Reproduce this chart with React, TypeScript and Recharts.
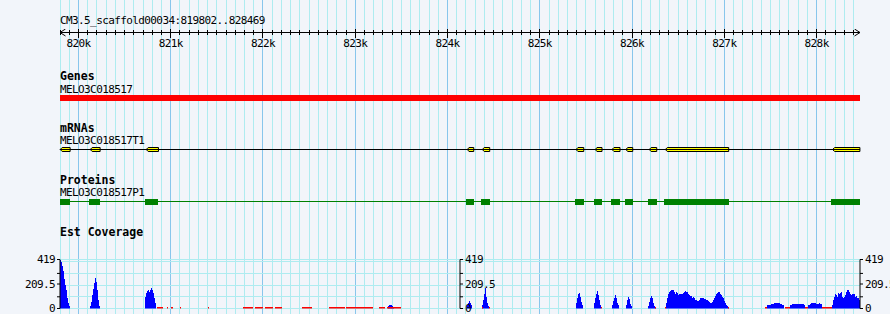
import React from 'react';
import {
  ComposedChart,
  XAxis,
  YAxis,
  ReferenceArea,
  ReferenceLine,
  Area,
} from 'recharts';

// region shown by the browser view
const regionStart = 819800;
const regionEnd = 828470;
const regionTitle = 'CM3.5_scaffold00034:819802..828469';

const majorTicks = [820000, 821000, 822000, 823000, 824000, 825000, 826000, 827000, 828000];
const minorStep = 100;

const geneName = 'MELO3C018517';
const geneSpan: [number, number] = [819802, 828469];

const mrnaName = 'MELO3C018517T1';
const mrnaExons: [number, number][] = [
  [819802, 819910], [820127, 820235], [820734, 820867], [824215, 824284],
  [824377, 824457], [825392, 825476], [825601, 825674], [825782, 825869],
  [825934, 826007], [826186, 826267], [826360, 827047], [828173, 828469],
];

const proteinName = 'MELO3C018517P1';
const proteinCds: [number, number][] = [
  [819802, 819910], [820116, 820235], [820723, 820864], [824201, 824287],
  [824363, 824461], [825382, 825479], [825587, 825674], [825772, 825869],
  [825923, 826010], [826172, 826270], [826346, 827050], [828155, 828469],
];

// EST coverage, read per ~1px bin
const covMax = 419;
const covTicks = [0, 100, 209.5, 300, 419];
const covLabelTicks = [0, 209.5, 419];
const covGridTicks = [0, 100, 200, 300, 400, 419];
const covBin = 10.83;
const covPeaks: [number, number[]][] = [
  [819802, [419, 395, 360, 320, 250, 200, 160, 90, 45, 25]],
  [820127, [20, 57, 114, 171, 219, 265, 228, 157, 71, 20]],
  [820723, [100, 134, 151, 157, 145, 162, 174, 162, 134, 86, 43]],
  [823356, [20, 28, 28, 28, 20, 10]],
  [824211, [28, 48, 66, 48, 28]],
  [824374, [28, 71, 128, 175, 100, 48, 20]],
  [825392, [43, 86, 123, 134, 100, 57, 28]],
  [825587, [43, 86, 123, 148, 114, 71, 34]],
  [825782, [28, 66, 94, 117, 86, 48, 28]],
  [825934, [28, 71, 100, 80, 40, 20]],
  [826172, [20, 57, 94, 108, 86, 48, 20, 10]],
  [826367, [43, 86, 120, 137, 148, 162, 162, 157, 143, 128, 137, 131, 114, 125, 120, 128,
    120, 134, 145, 151, 145, 137, 123, 114, 108, 105, 91, 100, 86, 71, 71, 66, 66, 71, 86,
    94, 94, 86, 77, 80, 71, 71, 63, 54, 43, 43, 57, 71, 91, 108, 123, 134, 145, 140, 128,
    114, 100, 86, 66, 48, 34, 20, 9]],
  [827462, [28, 34, 34, 34, 37, 37, 37, 43, 43, 43, 43, 43, 43, 40, 37, 34, 28]],
  [827711, [28, 34, 37, 37, 40, 40, 40, 37, 37, 37, 37, 40, 40, 37, 34]],
  [827906, [28, 34, 40, 43, 43, 43, 43, 43, 40, 40, 40, 43, 40, 37]],
  [828166, [28, 71, 100, 128, 114, 100, 134, 123, 134, 143, 100, 86, 100, 114, 143, 157,
    162, 143, 123, 114, 128, 123, 120, 100, 105, 91, 86, 71, 71, 71]],
];
// stretches of low (red) coverage along the baseline
const lowLevel = 16;
const lowRanges: [number, number][] = [
  [820850, 820921], [820958, 820969], [821004, 821030], [821102, 821113], [821405, 821416],
  [821785, 821893], [821915, 822001], [822023, 822110], [822131, 822207], [822421, 822529],
  [822716, 822890], [822901, 823190], [823258, 823323], [823348, 823496], [824374, 824385],
  [824450, 824461], [825663, 825674], [826248, 826259], [826356, 826367], [827039, 827050],
  [827440, 827462], [827657, 827711], [827873, 827906], [828057, 828166],
];

const BG = '#f2f5fa';
const GRID_MINOR = '#aeecf0';
const GRID_MAJOR = '#88c6ec';
const MONO = '"DejaVu Sans Mono", monospace';

const minorTicks: number[] = [];
for (let p = regionStart; p <= regionEnd; p += minorStep) minorTicks.push(p);

type Seg = { s: number; e: number; v: number };
const blueSegs: Seg[] = covPeaks.flatMap(([start, vals]) =>
  vals.map((v, i) => ({ s: start + i * covBin, e: start + (i + 1) * covBin, v })),
);
const redSegs: Seg[] = lowRanges.map(([s, e]) => ({ s, e, v: lowLevel }));
const valueAt = (segs: Seg[], p: number) => {
  const g = segs.find((x) => p >= x.s && p < x.e);
  return g ? g.v : 0;
};
const bounds = Array.from(
  new Set<number>([
    regionStart,
    regionEnd,
    ...blueSegs.flatMap((g) => [g.s, g.e]),
    ...redSegs.flatMap((g) => [g.s, g.e]),
  ]),
).sort((a, b) => a - b);
const covRows = bounds.map((pos) => ({ pos, cov: valueAt(blueSegs, pos), low: valueAt(redSegs, pos) }));

const W = 890;
const H = 314;

const RulerTick = (props: any) => {
  const { x, y, payload } = props;
  const major = payload.value % 1000 === 0;
  return (
    <g>
      <line x1={x} x2={x} y1={major ? y - 4 : y - 2.5} y2={major ? y + 5 : y + 2.5}
        stroke="#000" shapeRendering="crispEdges" />
      {major && (
        <text x={x} y={y + 14} textAnchor="middle" fontFamily={MONO} fontSize={11}
          letterSpacing={-0.6} fill="#000">
          {payload.value / 1000}k
        </text>
      )}
    </g>
  );
};

const exonShape = (p: any) => {
  const { x, y, width: w, height: h } = p;
  const n = Math.min(2, w / 4);
  return (
    <path d={`M${x},${y + h / 2} L${x + n},${y} L${x + w},${y} L${x + w},${y + h} L${x + n},${y + h} Z`}
      fill="#ffff00" stroke="#000" strokeWidth={1} />
  );
};

const xAxisProps = {
  type: 'number' as const,
  dataKey: 'pos',
  domain: [regionStart, regionEnd],
  allowDataOverflow: true,
};

const Track = ({ top, height, mt = 0, mb = 0, children }: any) => (
  <div style={{ position: 'absolute', left: 0, top, width: W, height }}>
    <ComposedChart width={W} height={height} margin={{ top: mt, bottom: mb, left: 60, right: 30 }} data={covRows}>
      <XAxis {...xAxisProps} hide />
      <YAxis type="number" domain={[0, 1]} allowDataOverflow hide />
      {children}
    </ComposedChart>
  </div>
);

const covTick = { fontFamily: MONO, fontSize: 11, fill: '#000', letterSpacing: -0.6 };
const covFmt = (v: number) => (covLabelTicks.includes(v) ? String(v) : '');
const covAxisProps = {
  type: 'number' as const,
  domain: [0, covMax],
  allowDataOverflow: true,
  ticks: covTicks,
  interval: 0 as const,
  tickFormatter: covFmt,
  tick: covTick,
  tickSize: 3,
  tickMargin: 2,
  axisLine: { stroke: '#000' },
  tickLine: { stroke: '#000' },
};
const covMargin = { top: 9.5, bottom: 5.5, left: 0, right: 0 };

const labels: { t: string; y: number; bold?: boolean }[] = [
  { t: regionTitle, y: 24 },
  { t: 'Genes', y: 80, bold: true },
  { t: geneName, y: 93 },
  { t: 'mRNAs', y: 132, bold: true },
  { t: mrnaName, y: 144 },
  { t: 'Proteins', y: 184, bold: true },
  { t: proteinName, y: 195.5 },
  { t: 'Est Coverage', y: 236, bold: true },
];

export default function App() {
  return (
    <div style={{ position: 'absolute', left: 0, top: 0, width: W, height: H, background: BG, overflow: 'hidden' }}>
      {/* background grid, every 100 bp and every kb */}
      <Track top={0} height={H}>
        {minorTicks.map((t) => (
          <ReferenceLine key={'m' + t} x={t} stroke={majorTicks.includes(t) ? GRID_MAJOR : GRID_MINOR}
            shapeRendering="crispEdges" />
        ))}
      </Track>

      {/* horizontal coverage grid, behind the coverage */}
      <div style={{ position: 'absolute', left: 0, top: 250 }}>
        <ComposedChart width={W} height={64} margin={covMargin} data={covRows}>
          <XAxis {...xAxisProps} hide />
          <YAxis yAxisId="l" orientation="left" width={60} type="number" domain={[0, covMax]}
            allowDataOverflow tick={false} tickLine={false} axisLine={false} />
          <YAxis yAxisId="r" orientation="right" width={30} type="number" domain={[0, covMax]}
            allowDataOverflow tick={false} tickLine={false} axisLine={false} />
          {covGridTicks.map((t) => (
            <ReferenceLine key={'h' + t} yAxisId="l" y={t} stroke={GRID_MINOR} shapeRendering="crispEdges" />
          ))}
        </ComposedChart>
      </div>

      {/* ruler */}
      <div style={{ position: 'absolute', left: 0, top: 0 }}>
        <ComposedChart width={W} height={50.5} margin={{ top: 0, bottom: 0, left: 60, right: 30 }} data={covRows}>
          <XAxis {...xAxisProps} ticks={minorTicks} interval={0} height={18} tickLine={false} tickSize={0}
            tickMargin={0} tick={(p: any) => <RulerTick {...p} />}
            axisLine={{ stroke: '#000', markerStart: 'url(#rulerArrow)', markerEnd: 'url(#rulerArrow)' } as any} />
          <YAxis type="number" domain={[0, 1]} allowDataOverflow hide />
        </ComposedChart>
      </div>

      {/* Genes */}
      <Track top={95} height={6}>
        <ReferenceArea x1={geneSpan[0]} x2={geneSpan[1]} y1={0} y2={1} fill="#ff0000" fillOpacity={1}
          stroke="none" shapeRendering="crispEdges" />
      </Track>

      {/* mRNAs */}
      <Track top={147} height={5} mt={0.5} mb={0.5}>
        <ReferenceLine y={0.5} stroke="#000" shapeRendering="crispEdges" />
        {mrnaExons.map(([s, e], i) => (
          <ReferenceArea key={i} x1={s} x2={e} y1={0} y2={1} shape={exonShape} />
        ))}
      </Track>

      {/* Proteins */}
      <Track top={199} height={6}>
        <ReferenceLine y={0.58} stroke="#008000" shapeRendering="crispEdges" />
        {proteinCds.map(([s, e], i) => (
          <ReferenceArea key={i} x1={s} x2={e} y1={0} y2={1} fill="#008000" fillOpacity={1}
            stroke="none" shapeRendering="crispEdges" />
        ))}
      </Track>

      {/* EST coverage */}
      <div style={{ position: 'absolute', left: 0, top: 250 }}>
        <ComposedChart width={W} height={64} margin={covMargin} data={covRows}>
          <XAxis {...xAxisProps} hide />
          <YAxis yAxisId="l" orientation="left" width={60} {...covAxisProps} />
          <YAxis yAxisId="r" orientation="right" width={30} {...covAxisProps} />
          <Area yAxisId="l" type="stepAfter" dataKey="cov" fill="#0000ff" fillOpacity={1} stroke="none"
            shapeRendering="crispEdges" dot={false} activeDot={false} isAnimationActive={false} />
          <Area yAxisId="l" type="stepAfter" dataKey="low" fill="#ff0000" fillOpacity={1} stroke="none"
            shapeRendering="crispEdges" dot={false} activeDot={false} isAnimationActive={false} />
        </ComposedChart>
      </div>
      {/* middle coverage axis */}
      <div style={{ position: 'absolute', left: 0, top: 250 }}>
        <ComposedChart width={W} height={64} margin={{ ...covMargin, left: 60 }} data={covRows}>
          <XAxis {...xAxisProps} hide />
          <YAxis orientation="right" width={430} {...covAxisProps} />
        </ComposedChart>
      </div>

      {/* text and arrow marker */}
      <svg width={W} height={H} style={{ position: 'absolute', left: 0, top: 0, pointerEvents: 'none' }}>
        <defs>
          <marker id="rulerArrow" viewBox="0 0 7 8" refX={6} refY={4} markerWidth={7} markerHeight={8}
            markerUnits="userSpaceOnUse" orient="auto-start-reverse">
            <path d="M0.5,0.5 L6,4 L0.5,7.5" fill="none" stroke="#000" strokeWidth={1} />
          </marker>
        </defs>
        {labels.map((l) => (
          <text key={l.t} x={60} y={l.y} fontFamily={MONO} fontSize={l.bold ? 11.5 : 11}
            fontWeight={l.bold ? 'bold' : 'normal'} letterSpacing={l.bold ? 0 : -0.6} fill="#000">
            {l.t}
          </text>
        ))}
      </svg>
    </div>
  );
}
